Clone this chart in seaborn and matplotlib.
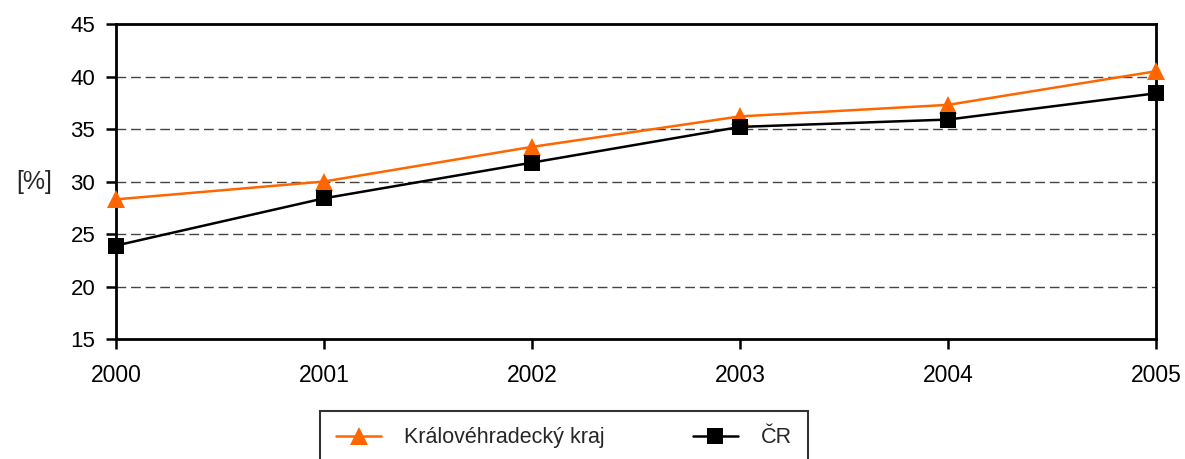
import pandas as pd
import seaborn as sns
import matplotlib.pyplot as plt

# Data
years = [2000, 2001, 2002, 2003, 2004, 2005]
kraj = [28.3, 30.0, 33.3, 36.2, 37.3, 40.5]
cr = [23.9, 28.4, 31.8, 35.2, 35.9, 38.4]
series_names = ['Královéhradecký kraj', 'ČR']
y_ticks = [15, 20, 25, 30, 35, 40, 45]

df = pd.DataFrame({'rok': years * 2,
                   'hodnota': kraj + cr,
                   'serie': [series_names[0]] * len(years) + [series_names[1]] * len(years)})

sns.set_style('white')
plt.rcParams['font.family'] = ['Liberation Sans', 'DejaVu Sans']

fig = plt.figure(figsize=(11.85, 4.59), dpi=100)
ax = fig.add_axes([0.0979, 0.2614, 0.8776, 0.6863])

sns.lineplot(data=df, x='rok', y='hodnota', hue='serie', style='serie',
             palette={series_names[0]: '#FF6600', series_names[1]: 'black'},
             markers={series_names[0]: '^', series_names[1]: 's'},
             dashes=False, linewidth=1.8, markersize=13, markeredgewidth=0,
             ax=ax, legend=True)
# smaller square, markers not clipped at the frame
for line in ax.lines:
    line.set_clip_on(False)
    line.set_zorder(5)
    if line.get_marker() == 's':
        line.set_markersize(11)

ax.set_xlim(2000, 2005)
ax.set_ylim(15, 45)
ax.set_xticks(years)
ax.set_yticks(y_ticks)
ax.tick_params(axis='both', bottom=True, left=True, length=7, width=1.8,
               direction='out', colors='black')
ax.tick_params(axis='y', labelsize=16, pad=8)
ax.tick_params(axis='x', labelsize=16.5, pad=11)
for sp in ax.spines.values():
    sp.set_color('black')
    sp.set_linewidth(2)

for y in y_ticks[1:-1]:
    ax.axhline(y, color='#444444', linestyle=(0, (7, 3.5)), linewidth=1.0, zorder=0)

ax.set_xlabel('')
ax.set_ylabel('[%]', rotation=0, fontsize=18, labelpad=26, va='center')

handles, labels = ax.get_legend_handles_labels()
ax.get_legend().remove()
for h in handles:
    if h.get_marker() == 's':
        h.set_markersize(11)
leg = fig.legend(handles, labels, loc='upper left', bbox_to_anchor=(0.27, 0.1046),
                 ncol=2, fontsize=15.5, frameon=True, fancybox=False, edgecolor='black',
                 borderaxespad=0, handlelength=2.1, handletextpad=1.05,
                 columnspacing=4.1, borderpad=0.75)
leg.get_frame().set_linewidth(1.5)

fig.savefig('out.png', dpi=100)
